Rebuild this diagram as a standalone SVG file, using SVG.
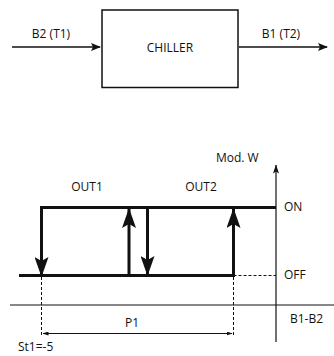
<svg xmlns="http://www.w3.org/2000/svg" width="334" height="356" viewBox="0 0 334 356">
<style>
text{font-family:"Open Sans","Liberation Sans",sans-serif;font-size:12px;fill:#111}
.thin{stroke:#111;stroke-width:1.5;fill:none}
.thick{stroke:#111;stroke-width:3;fill:none}
.axis{stroke:#111;stroke-width:1.2;fill:none}
.dash{stroke:#111;stroke-width:1;stroke-dasharray:3,2;fill:none}
</style>
<defs>
<marker id="ah" markerWidth="10" markerHeight="8" refX="9" refY="4" orient="auto" markerUnits="userSpaceOnUse">
<path d="M0,0 L10,4 L0,8 L2,4 Z" fill="#111"/>
</marker>
<marker id="big" markerWidth="20" markerHeight="14" refX="19" refY="7" orient="auto" markerUnits="userSpaceOnUse">
<path d="M0,0 L20,7 L0,14 L4,7 Z" fill="#111"/>
</marker>
<marker id="ax" markerWidth="9" markerHeight="6" refX="8.5" refY="3" orient="auto" markerUnits="userSpaceOnUse">
<path d="M0,0 L9,3 L0,6 L2,3 Z" fill="#111"/>
</marker>
<marker id="dim" markerWidth="6" markerHeight="4" refX="5.5" refY="2" orient="auto-start-reverse" markerUnits="userSpaceOnUse">
<path d="M0,0 L6,2 L0,4 Z" fill="#111"/>
</marker>
</defs>

<g id="chiller">
<rect x="102" y="10" width="136" height="77.5" class="thin"/>
<text x="170" y="52" text-anchor="middle">CHILLER</text>
</g>
<g id="in-label"><text x="51" y="38" text-anchor="middle">B2 (T1)</text></g>
<g id="out-label"><text x="281" y="38" text-anchor="middle">B1 (T2)</text></g>

<g id="connectors">
<line x1="12" y1="47" x2="100" y2="47" class="thin" stroke-width="2" marker-end="url(#ah)"/>
<line x1="239" y1="47" x2="327" y2="47" class="thin" stroke-width="2" marker-end="url(#ah)"/>
</g>

<g id="graph">
<line x1="276" y1="342" x2="276" y2="165" class="axis" marker-end="url(#ax)"/>
<line x1="10" y1="305" x2="334" y2="305" class="axis"/>
<text x="216" y="162">Mod. W</text>
<text x="87" y="191" text-anchor="middle">OUT1</text>
<text x="201" y="191" text-anchor="middle">OUT2</text>
<text x="284" y="211">ON</text>
<text x="284" y="279">OFF</text>
<text x="290" y="323">B1-B2</text>

<polyline points="41.5,207.5 276,207.5" class="thick"/>
<line x1="19" y1="275.5" x2="233.5" y2="275.5" class="thick"/>
<line x1="233.5" y1="275.5" x2="276" y2="275.5" class="dash"/>

<line x1="41.5" y1="206" x2="41.5" y2="276" class="thick" marker-end="url(#big)"/>
<line x1="129" y1="277" x2="129" y2="209" class="thick" marker-end="url(#big)"/>
<line x1="147.5" y1="206" x2="147.5" y2="275" class="thick" marker-end="url(#big)"/>
<line x1="233.5" y1="277" x2="233.5" y2="209" class="thick" marker-end="url(#big)"/>

<line x1="41.5" y1="277" x2="41.5" y2="336" class="dash"/>
<line x1="233.5" y1="277" x2="233.5" y2="336" class="dash"/>
<line x1="43" y1="333.5" x2="232" y2="333.5" class="axis" stroke-width="1" marker-start="url(#dim)" marker-end="url(#dim)"/>
<text x="132" y="327" text-anchor="middle">P1</text>
<text x="18" y="351">St1=-5</text>
</g>
</svg>
